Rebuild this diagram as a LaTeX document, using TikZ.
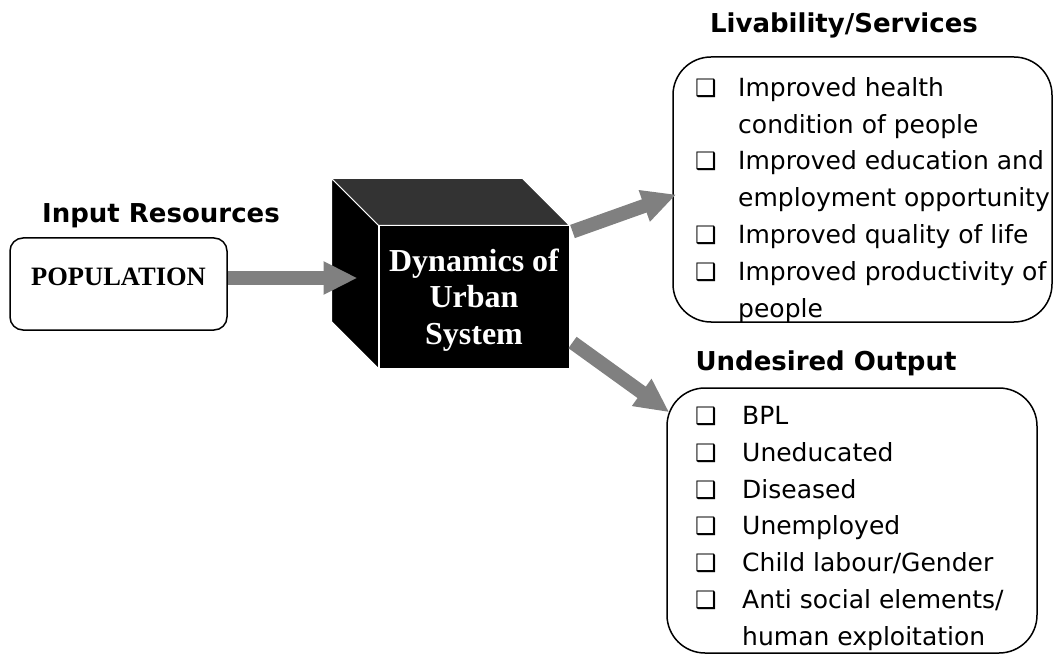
\documentclass[tikz,border=0pt]{standalone}
\usepackage{fontspec}
\setmainfont{Liberation Serif}
\newfontfamily\headfont{DejaVu Sans}
\newfontfamily\listfont{DejaVu Sans}
\usetikzlibrary{arrows.meta, calc}

\definecolor{arrowgray}{HTML}{808080}
\definecolor{topgray}{HTML}{333333}

\newcommand{\boxbul}[1]{\makebox[#1][l]{\fontsize{24}{24}\selectfont ❑}}

\tikzset{
    head/.style={font=\headfont\bfseries\fontsize{26}{30}\selectfont, inner sep=0pt},
    item/.style={font=\listfont\fontsize{25}{30}\selectfont, anchor=base west, inner sep=0pt},
    outbox/.style={draw, line width=1.5pt, rounded corners=38pt},
    fatarrow/.style={draw=arrowgray, line width=14pt, -{Triangle[length=34pt,width=31pt]}},
    face/.style={draw=white, line width=1pt},
}

\begin{document}
\begin{tikzpicture}[x=1pt, y=-1pt]
                    \useasboundingbox (0,0) rectangle (1058,655);

                    % input side
                    \node[head] (inhead) at (161,216) {Input Resources};
                    \node[draw, line width=1.5pt, rounded corners=13pt, inner sep=0pt,
                          minimum width=217pt, text height=47pt, text depth=45pt,
                          font=\bfseries\fontsize{26.5}{30}\selectfont] (pop) at (118.5,284) {POPULATION};

                    % the black box
                    \node[face, fill=black, minimum width=190pt, minimum height=142pt, inner sep=0pt,
                          text=white, align=center, font=\bfseries\fontsize{32}{36.5}\selectfont]
                          (cube) at (474,297) {\rule{0pt}{28pt}Dynamics of\\Urban\\System};
                    \draw[face, fill=topgray]
                    (cube.north west) -- ++(-47,-47) -- ($(cube.north east)+(-47,-47)$) -- (cube.north east) -- cycle;
                    \draw[face, fill=black]
                    (cube.north west) -- ++(-47,-47) -- ($(cube.south west)+(-47,-47)$) -- (cube.south west) -- cycle;
                    \coordinate (cubeleft) at ($(cube.west)+(-21,0)$);

                    % outputs
                    \node[head] (livhead) at (844,25) {Livability/Services};
                    \node[outbox, minimum width=379pt, minimum height=265pt] (liv) at (862.5,189.5) {};
                    \node[item] (liv1) at (695,97) {\boxbul{43pt}Improved health};
                    \node[item] (liv2) at (738,134) {condition of people};
                    \node[item] (liv3) at (695,170) {\boxbul{43pt}Improved education and};
                    \node[item] (liv4) at (738,207) {employment opportunity};
                    \node[item] (liv5) at (695,244) {\boxbul{43pt}Improved quality of life};
                    \node[item] (liv6) at (695,280) {\boxbul{43pt}Improved productivity of};
                    \node[item] (liv7) at (738,317) {people};

                    \node[head] (undhead) at (826,363) {Undesired Output};
                    \node[outbox, minimum width=370pt, minimum height=265pt] (und) at (852,520.5) {};
                    \node[item] (und1) at (695,424) {\boxbul{47pt}BPL};
                    \node[item] (und2) at (695,461) {\boxbul{47pt}Uneducated};
                    \node[item] (und3) at (695,498) {\boxbul{47pt}Diseased};
                    \node[item] (und4) at (695,534) {\boxbul{47pt}Unemployed};
                    \node[item] (und5) at (695,571) {\boxbul{47pt}Child labour/Gender};
                    \node[item] (und6) at (695,608) {\boxbul{47pt}Anti social elements/};
                    \node[item] (und7) at (742,645) {human exploitation};

                    % arrows
                    \coordinate (popout) at ([shift={(0,-6)}]pop.east);
                    \draw[fatarrow] (popout) -- (popout -| cubeleft);
                    \draw[fatarrow] ([shift={(3,6)}]cube.north east) -- ([shift={(4,5)}]liv.west);
                    \draw[fatarrow] ([shift={(3,-26)}]cube.south east) -- ([shift={(3,25)}]und.north west);
                \end{tikzpicture}
\end{document}
